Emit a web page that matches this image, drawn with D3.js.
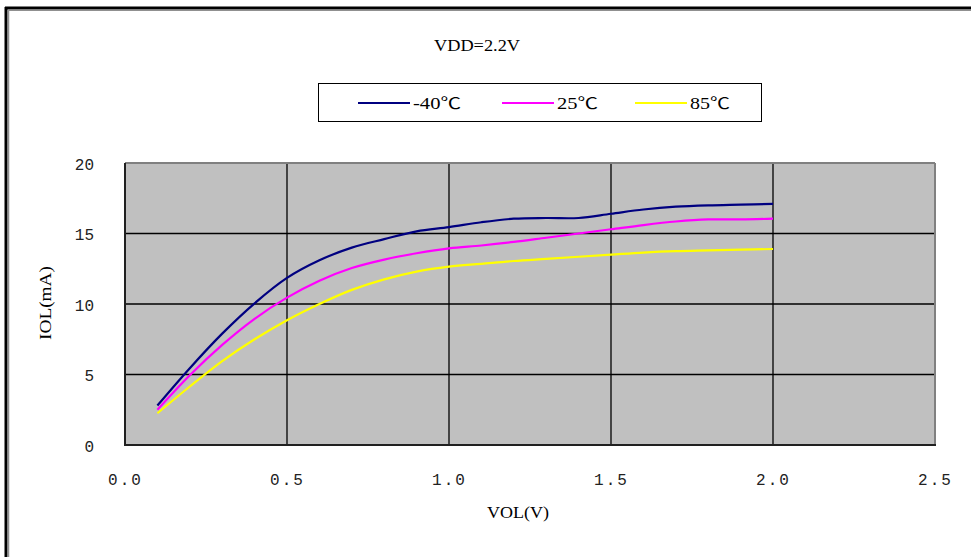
<!DOCTYPE html>
<html><head><meta charset="utf-8">
<script src="https://cdn.jsdelivr.net/npm/d3@7"></script>
<style>html,body{margin:0;padding:0;background:#fff;}svg{display:block;}</style>
</head><body>
<svg id="chart" width="971" height="557"></svg>
<script>
const title = "VDD=2.2V";
const xLabel = "VOL(V)";
const yLabel = "IOL(mA)";
const vol = [0.1,0.2,0.3,0.4,0.5,0.6,0.7,0.8,0.9,1.0,1.1,1.2,1.3,1.4,1.5,1.6,1.7,1.8,1.9,2.0];
const iolMinus40 = [2.8,5.45,7.9,10.05,11.85,13.1,14.0,14.6,15.15,15.45,15.8,16.05,16.1,16.1,16.4,16.7,16.9,17.0,17.05,17.1];
const iol25 = [2.5,4.95,7.1,8.95,10.45,11.65,12.55,13.15,13.6,13.95,14.15,14.4,14.7,15.0,15.3,15.6,15.85,16.0,16.0,16.05];
const iol85 = [2.25,4.15,5.95,7.5,8.85,10.0,11.0,11.75,12.3,12.65,12.85,13.05,13.2,13.35,13.5,13.65,13.75,13.8,13.85,13.9];
const seriesNames = ["-40℃","25℃","85℃"];
const seriesColors = ["#000080","#ff00ff","#ffff00"];
const xTicks = [0,0.5,1.0,1.5,2.0,2.5];
const xTickLabels = ["0.0","0.5","1.0","1.5","2.0","2.5"];
const yTicks = [0,5,10,15,20];
const yTickLabels = ["0","5","10","15","20"];

const series = [iolMinus40, iol25, iol85];
const svg = d3.select("#chart");
const L = 125, R = 935, T = 163, B = 445;
const x = d3.scaleLinear().domain([0,2.5]).range([L,R]);
const y = d3.scaleLinear().domain([0,20]).range([B,T]);
const mono = "'Liberation Mono','DejaVu Sans Mono',monospace";
const serif = "'Liberation Serif','DejaVu Serif',serif";

// outer frame
svg.append("line").attr("x1",5).attr("x2",971).attr("y1",8).attr("y2",8).attr("stroke","#000").attr("stroke-width",3);
svg.append("line").attr("x1",6).attr("x2",6).attr("y1",7).attr("y2",557).attr("stroke","#000").attr("stroke-width",3);
svg.append("line").attr("x1",9).attr("x2",971).attr("y1",10.5).attr("y2",10.5).attr("stroke","#909090").attr("stroke-width",1);
svg.append("line").attr("x1",8.5).attr("x2",8.5).attr("y1",10).attr("y2",557).attr("stroke","#909090").attr("stroke-width",1.5);

// title
svg.append("text").attr("x",477).attr("y",51).attr("text-anchor","middle")
  .attr("font-family",serif).attr("font-size",16).attr("textLength",86).attr("lengthAdjust","spacingAndGlyphs")
  .attr("fill","#000").text(title);

// plot area
svg.append("rect").attr("x",L).attr("y",T).attr("width",R-L).attr("height",B-T).attr("fill","#c0c0c0");

// grid
const g = svg.append("g");
g.selectAll(".vg").data(xTicks.slice(1,-1)).join("line")
  .attr("x1",d=>x(d)).attr("x2",d=>x(d)).attr("y1",T).attr("y2",B)
  .attr("stroke","#000").attr("stroke-width",1.3);
g.selectAll(".hg").data(yTicks.slice(1,-1)).join("line")
  .attr("x1",L).attr("x2",R).attr("y1",d=>y(d)).attr("y2",d=>y(d))
  .attr("stroke","#000").attr("stroke-width",1.3);

// plot border
svg.append("line").attr("x1",L).attr("x2",R).attr("y1",T).attr("y2",T).attr("stroke","#808080").attr("stroke-width",2);
svg.append("line").attr("x1",R).attr("x2",R).attr("y1",T).attr("y2",B).attr("stroke","#808080").attr("stroke-width",2);
svg.append("line").attr("x1",L).attr("x2",L).attr("y1",T).attr("y2",B+1).attr("stroke","#202020").attr("stroke-width",2);
svg.append("line").attr("x1",L).attr("x2",R+1).attr("y1",B).attr("y2",B).attr("stroke","#202020").attr("stroke-width",2);

// axes labels via d3 axes
const xAxis = d3.axisBottom(x).tickValues(xTicks).tickSize(0).tickFormat((d,i)=>xTickLabels[i]);
const xa = svg.append("g").attr("transform",`translate(0,${B+26})`).call(xAxis);
xa.select(".domain").remove();
xa.selectAll("text").attr("font-family",mono).attr("font-size",16).attr("letter-spacing","2px").attr("fill","#222").attr("dy","0.32em").attr("y",9);

const yAxis = d3.axisLeft(y).tickValues(yTicks).tickSize(0).tickFormat((d,i)=>yTickLabels[i]);
const ya = svg.append("g").attr("transform",`translate(${L-31},0)`).call(yAxis);
ya.select(".domain").remove();
ya.selectAll("text").attr("font-family",mono).attr("font-size",16).attr("fill","#222").attr("x",0).attr("dy","0.38em");

svg.append("text").attr("x",518).attr("y",518).attr("text-anchor","middle")
  .attr("font-family",serif).attr("font-size",16).attr("textLength",62).attr("lengthAdjust","spacingAndGlyphs").text(xLabel);
svg.append("text").attr("transform","translate(51,303) rotate(-90)").attr("text-anchor","middle")
  .attr("font-family",serif).attr("font-size",16).attr("textLength",74).attr("lengthAdjust","spacingAndGlyphs").text(yLabel);

// lines
const line = d3.line().x((d,i)=>x(vol[i])).y(d=>y(d)).curve(d3.curveCatmullRom.alpha(0.5));
svg.selectAll(".series").data(series).join("path")
  .attr("d",d=>line(d)).attr("fill","none")
  .attr("stroke",(d,i)=>seriesColors[i]).attr("stroke-width",2.2);

// legend
svg.append("rect").attr("x",318.5).attr("y",83.5).attr("width",443).attr("height",38).attr("fill","#fff").attr("stroke","#000").attr("stroke-width",1);
const legX = [358,502,635];
const legW = [48,41,40];
const leg = svg.selectAll(".leg").data(seriesNames).join("g").attr("transform",(d,i)=>`translate(${legX[i]},103)`);
leg.append("line").attr("x1",0).attr("x2",52).attr("y1",0).attr("y2",0).attr("stroke",(d,i)=>seriesColors[i]).attr("stroke-width",2.2);
leg.append("text").attr("x",55).attr("y",0).attr("dy","0.36em").attr("font-family","'Liberation Serif','Noto Sans CJK SC',serif").attr("font-size",16)
  .attr("textLength",(d,i)=>legW[i]).attr("lengthAdjust","spacingAndGlyphs").attr("fill","#000").text(d=>d);
</script>
</body></html>
